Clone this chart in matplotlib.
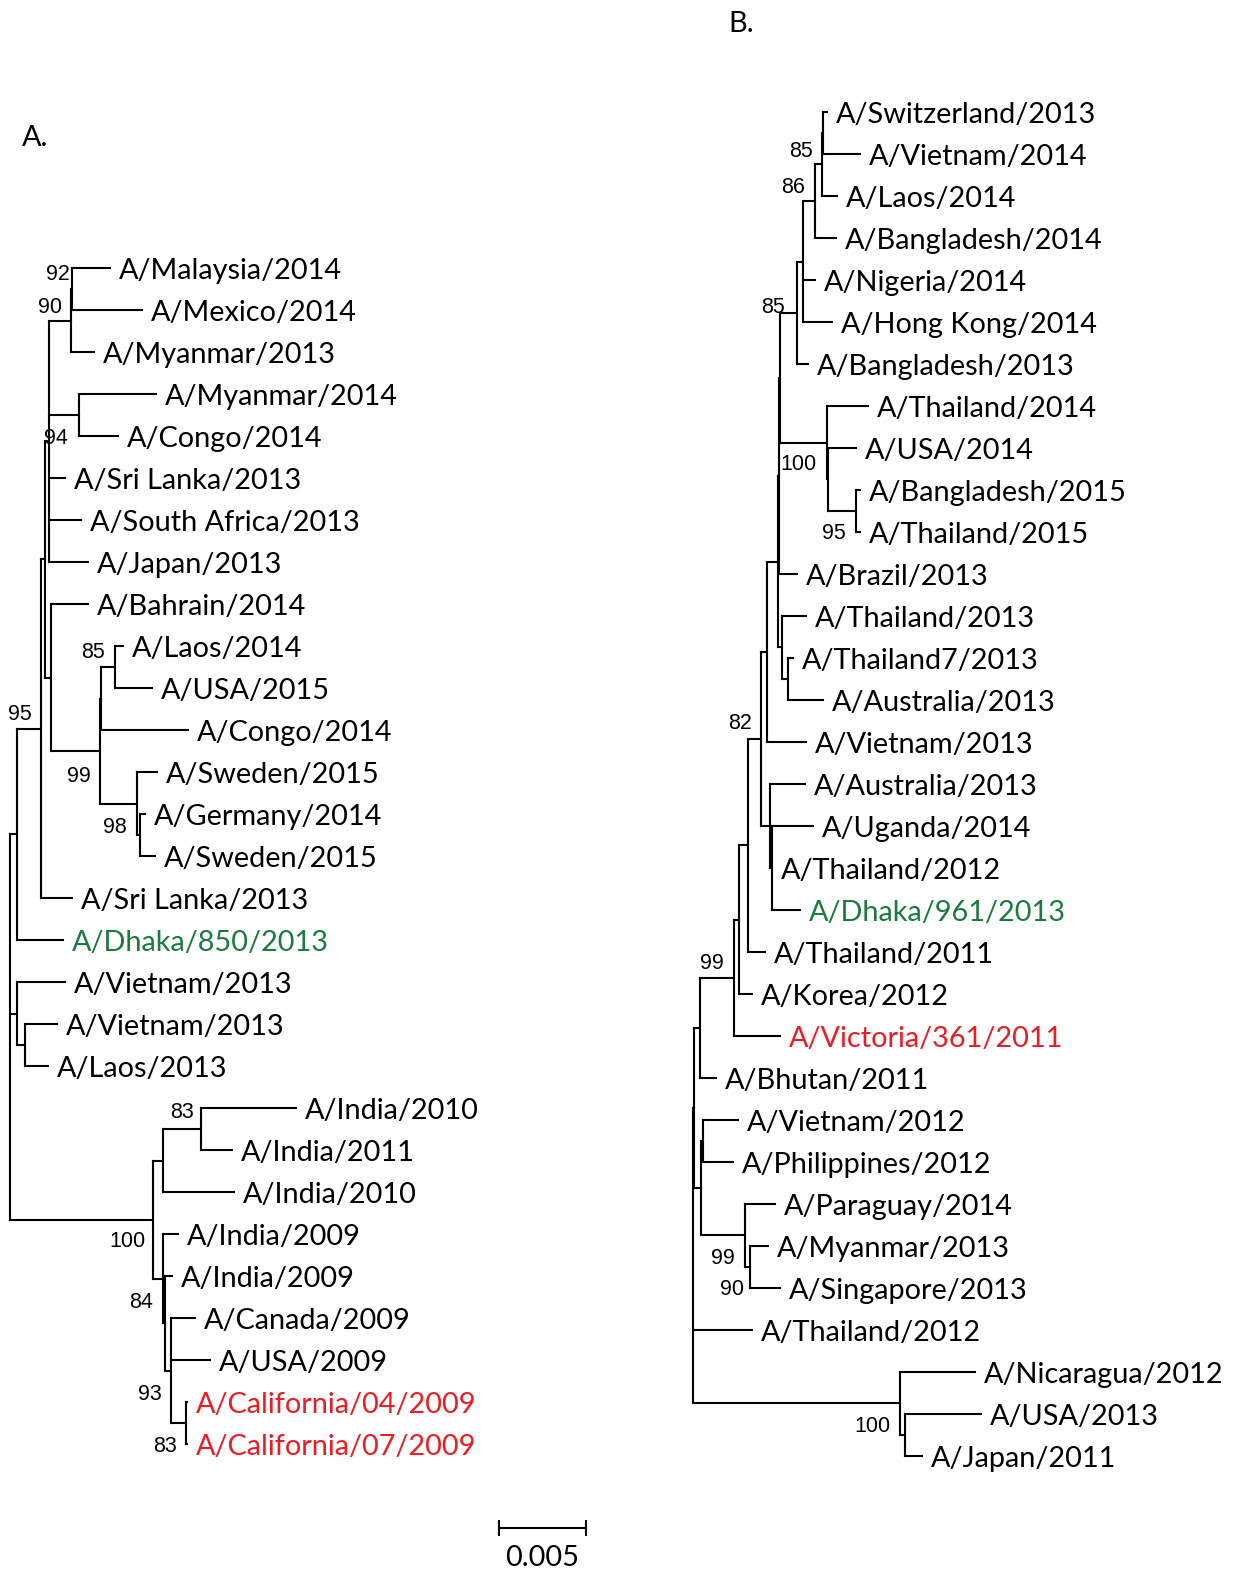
import matplotlib.pyplot as plt
from matplotlib.collections import LineCollection

plt.rcParams['font.family'] = ['Lato', 'DejaVu Sans']

GREEN = '#1b7a3d'
RED = '#ed1c24'

# ---------------- tree A ----------------
a_leaf_names = ['A/Malaysia/2014', 'A/Mexico/2014', 'A/Myanmar/2013', 'A/Myanmar/2014',
                'A/Congo/2014', 'A/Sri Lanka/2013', 'A/South Africa/2013', 'A/Japan/2013',
                'A/Bahrain/2014', 'A/Laos/2014', 'A/USA/2015', 'A/Congo/2014',
                'A/Sweden/2015', 'A/Germany/2014', 'A/Sweden/2015', 'A/Sri Lanka/2013',
                'A/Dhaka/850/2013', 'A/Vietnam/2013', 'A/Vietnam/2013', 'A/Laos/2013',
                'A/India/2010', 'A/India/2011', 'A/India/2010', 'A/India/2009',
                'A/India/2009', 'A/Canada/2009', 'A/USA/2009', 'A/California/04/2009',
                'A/California/07/2009']
a_leaf_depth = [0.00575, 0.00759, 0.00483, 0.00839, 0.00621, 0.00316, 0.00408, 0.00448,
                0.00448, 0.00649, 0.00816, 0.01023, 0.00845, 0.00776, 0.00833, 0.00356,
                0.00305, 0.00316, 0.00270, 0.00218, 0.01644, 0.01276, 0.01287, 0.00966,
                0.00931, 0.01063, 0.01149, 0.01017, 0.01017]
a_leaf_parent = ['n92', 'n92', 'n90', 'nMC', 'nMC', 'nD', 'nD', 'nD',
                 'nB', 'n85', 'n85', 'nE', 'nS', 'nG', 'nG', 'n95',
                 'n17', 'nV', 'nV2', 'nV2', 'n83', 'n83', 'nI1', 'nI2',
                 'n84', 'n93', 'n93', 'nCal', 'nCal']
a_node_names = ['root', 'n17', 'n95', 'nA', 'nD', 'n90', 'n92', 'nMC', 'nB', 'n99',
                'nE', 'n85', 'nS', 'nG', 'nV', 'nV2', 'n100', 'nI1', 'n83', 'nI2',
                'n84', 'n93', 'nCal']
a_node_depth = [0.0, 0.00040, 0.00178, 0.00201, 0.00224, 0.00351, 0.00356, 0.00397,
                0.00236, 0.00517, 0.00523, 0.00603, 0.00730, 0.00747, 0.00040, 0.00086,
                0.00822, 0.00879, 0.01098, 0.00879, 0.00891, 0.00925, 0.01011]
a_node_parent = [None, 'root', 'n17', 'n95', 'nA', 'nD', 'n90', 'nD', 'nA', 'nB',
                 'n99', 'nE', 'n99', 'nS', 'root', 'nV', 'root', 'n100', 'nI1', 'n100',
                 'nI2', 'n84', 'n93']
a_support = {'n92': 92, 'n90': 90, 'nMC': 94, 'n95': 95, 'n85': 85, 'n99': 99,
             'nS': 98, 'n83': 83, 'n100': 100, 'n84': 84, 'n93': 93, 'nCal': 83}
a_colours = {'A/Dhaka/850/2013': GREEN, 'A/California/04/2009': RED,
             'A/California/07/2009': RED}

# ---------------- tree B ----------------
b_leaf_names = ['A/Switzerland/2013', 'A/Vietnam/2014', 'A/Laos/2014', 'A/Bangladesh/2014',
                'A/Nigeria/2014', 'A/Hong Kong/2014', 'A/Bangladesh/2013', 'A/Thailand/2014',
                'A/USA/2014', 'A/Bangladesh/2015', 'A/Thailand/2015', 'A/Brazil/2013',
                'A/Thailand/2013', 'A/Thailand7/2013', 'A/Australia/2013', 'A/Vietnam/2013',
                'A/Australia/2013', 'A/Uganda/2014', 'A/Thailand/2012', 'A/Dhaka/961/2013',
                'A/Thailand/2011', 'A/Korea/2012', 'A/Victoria/361/2011', 'A/Bhutan/2011',
                'A/Vietnam/2012', 'A/Philippines/2012', 'A/Paraguay/2014', 'A/Myanmar/2013',
                'A/Singapore/2013', 'A/Thailand/2012', 'A/Nicaragua/2012', 'A/USA/2013',
                'A/Japan/2011']
b_leaf_depth = [0.00770, 0.00960, 0.00828, 0.00822, 0.00701, 0.00799, 0.00661, 0.01006,
                0.00937, 0.00960, 0.00960, 0.00598, 0.00649, 0.00575, 0.00747, 0.00649,
                0.00644, 0.00690, 0.00454, 0.00615, 0.00414, 0.00339, 0.00500, 0.00132,
                0.00259, 0.00230, 0.00471, 0.00431, 0.00500, 0.00339, 0.01621, 0.01655,
                0.01316]
b_leaf_parent = ['mSV', 'mSV', 'm85', 'm86', 'mP', 'mP', 'm85c', 'm100',
                 'mUS', 'm95', 'm95', 'mW1', 'mTT', 'mTA', 'mTA', 'm767',
                 'mR', 'mR2', 'mR2', 'mR2', 'mT11', 'mK', 'mVi', 'm99n',
                 'mVP', 'mVP', 'mPMS', 'mMS', 'mMS', 'root', 'mNic', 'mUJ',
                 'mUJ']
b_node_names = ['root', 'm694', 'm99n', 'mVi', 'mK', 'mT11', 'm82', 'm767', 'mW', 'mW1',
                'mU', 'm85c', 'mP', 'm86', 'm85', 'mSV', 'm100', 'mUS', 'm95', 'mTT',
                'mTA', 'mR', 'mR2', 'm701', 'mVP', 'mPMS', 'mMS', 'mNic', 'mUJ']
b_node_depth = [0.0, 0.00006, 0.00040, 0.00236, 0.00264, 0.00316, 0.00391, 0.00425,
                0.00489, 0.00494, 0.00500, 0.00598, 0.00632, 0.00701, 0.00741, 0.00747,
                0.00770, 0.00776, 0.00937, 0.00511, 0.00546, 0.00443, 0.00454, 0.00046,
                0.00057, 0.00299, 0.00328, 0.01190, 0.01218]
b_node_parent = [None, 'root', 'm694', 'm99n', 'mVi', 'mK', 'mT11', 'm82', 'm767', 'mW',
                 'mW1', 'mU', 'm85c', 'mP', 'm86', 'm85', 'mU', 'm100', 'mUS', 'mW',
                 'mTT', 'm82', 'mR', 'm694', 'm701', 'm701', 'mPMS', 'root', 'mNic']
b_support = {'m85': 85, 'm86': 86, 'm85c': 85, 'm100': 100, 'm95': 95, 'm82': 82,
             'mVi': 99, 'mPMS': 99, 'mMS': 90, 'mNic': 100}
b_colours = {'A/Dhaka/961/2013': GREEN, 'A/Victoria/361/2011': RED}

# support label placement: (dx, dy) in pixels from the node, right edge / centre, dy down
a_lab = {'n92': (-2, -17), 'n90': (-9, -15), 'nMC': (-11, 22), 'n95': (-9, -16),
         'n85': (-10, -16), 'n99': (-9, 23), 'nS': (-10, 22), 'n83': (-7, -18),
         'n100': (-8, 20), 'n84': (-12, -23), 'n93': (-9, 22), 'nCal': (-9, 21)}
b_lab = {'m85': (-9, -15), 'm86': (-10, -16), 'm85c': (-12, -7), 'm100': (-10, 20),
         'm95': (-10, 21), 'm82': (-9, -17), 'mVi': (-10, -16), 'mPMS': (-10, 21),
         'mMS': (-6, 21), 'mNic': (-10, 21)}

W, H = 1245, 1569
ROW = 42.0
UNIT = 87.0 / 0.005  # pixels per substitution/site
LABEL_SIZE = 20.8
SUPPORT_SIZE = 15.5


def draw_tree(ax, leaves, leaf_depth, leaf_parent, nodes, node_depth, node_parent,
              support, lab, colours):
    pos = {}
    children = {n: [] for n in nodes}
    for i, (d, p) in enumerate(zip(leaf_depth, leaf_parent)):
        pos[i] = (d, i)
        children[p].append(i)
    for n, p in zip(nodes, node_parent):
        if p is not None:
            children[p].append(n)
    depth = dict(zip(nodes, node_depth))

    def place(n):
        ys = []
        for c in children[n]:
            if c not in pos:
                place(c)
            ys.append(pos[c][1])
        pos[n] = (depth[n], (min(ys) + max(ys)) / 2)

    place(nodes[0])

    segs = []
    for n in nodes:
        x = pos[n][0]
        ys = [pos[c][1] for c in children[n]]
        segs.append([(x, min(ys)), (x, max(ys))])
        for c in children[n]:
            segs.append([(x, pos[c][1]), (pos[c][0], pos[c][1])])
    ax.add_collection(LineCollection(segs, colors='black', linewidths=1.5,
                                     capstyle='projecting'))

    for i, name in enumerate(leaves):
        ax.annotate(name, (leaf_depth[i], i), xytext=(9, -11), textcoords='offset pixels',
                    ha='left', va='baseline', fontsize=LABEL_SIZE,
                    color=colours.get(name, 'black'))

    for n, val in support.items():
        dx, dy = lab[n]
        ax.annotate(str(val), pos[n], xytext=(dx, -dy - 7.5), textcoords='offset pixels',
                    ha='right', va='baseline', fontsize=SUPPORT_SIZE,
                    family='Liberation Sans')


fig = plt.figure(figsize=(W / 100, H / 100), dpi=100)

# tree A: root at x=10 px, first row at y=268 px
axA = fig.add_axes([0, 0, 1, 1])
axA.set_xlim(-10 / UNIT, (W - 10) / UNIT)
axA.set_ylim((H - 268) / ROW, -268 / ROW)
axA.axis('off')
draw_tree(axA, a_leaf_names, a_leaf_depth, a_leaf_parent, a_node_names, a_node_depth,
          a_node_parent, a_support, a_lab, a_colours)

# tree B: root at x=693 px, first row at y=112 px
axB = fig.add_axes([0, 0, 1, 1])
axB.set_xlim(-693 / UNIT, (W - 693) / UNIT)
axB.set_ylim((H - 112) / ROW, -112 / ROW)
axB.axis('off')
draw_tree(axB, b_leaf_names, b_leaf_depth, b_leaf_parent, b_node_names, b_node_depth,
          b_node_parent, b_support, b_lab, b_colours)

# scale bar
x0 = (499 - 10) / UNIT
yb = (1528 - 268) / ROW
axA.plot([x0, x0 + 0.005], [yb, yb], color='black', lw=1.5, marker='|',
         markersize=12, mew=1.5)
axA.annotate('0.005', (x0 + 0.0025, yb), xytext=(0, -38), textcoords='offset pixels',
             ha='center', va='baseline', fontsize=LABEL_SIZE)

fig.text(22 / W, 1 - 146 / H, 'A.', fontsize=LABEL_SIZE, ha='left', va='baseline')
fig.text(728 / W, 1 - 32 / H, 'B.', fontsize=LABEL_SIZE, ha='left', va='baseline')

fig.savefig('out.png', dpi=100)
